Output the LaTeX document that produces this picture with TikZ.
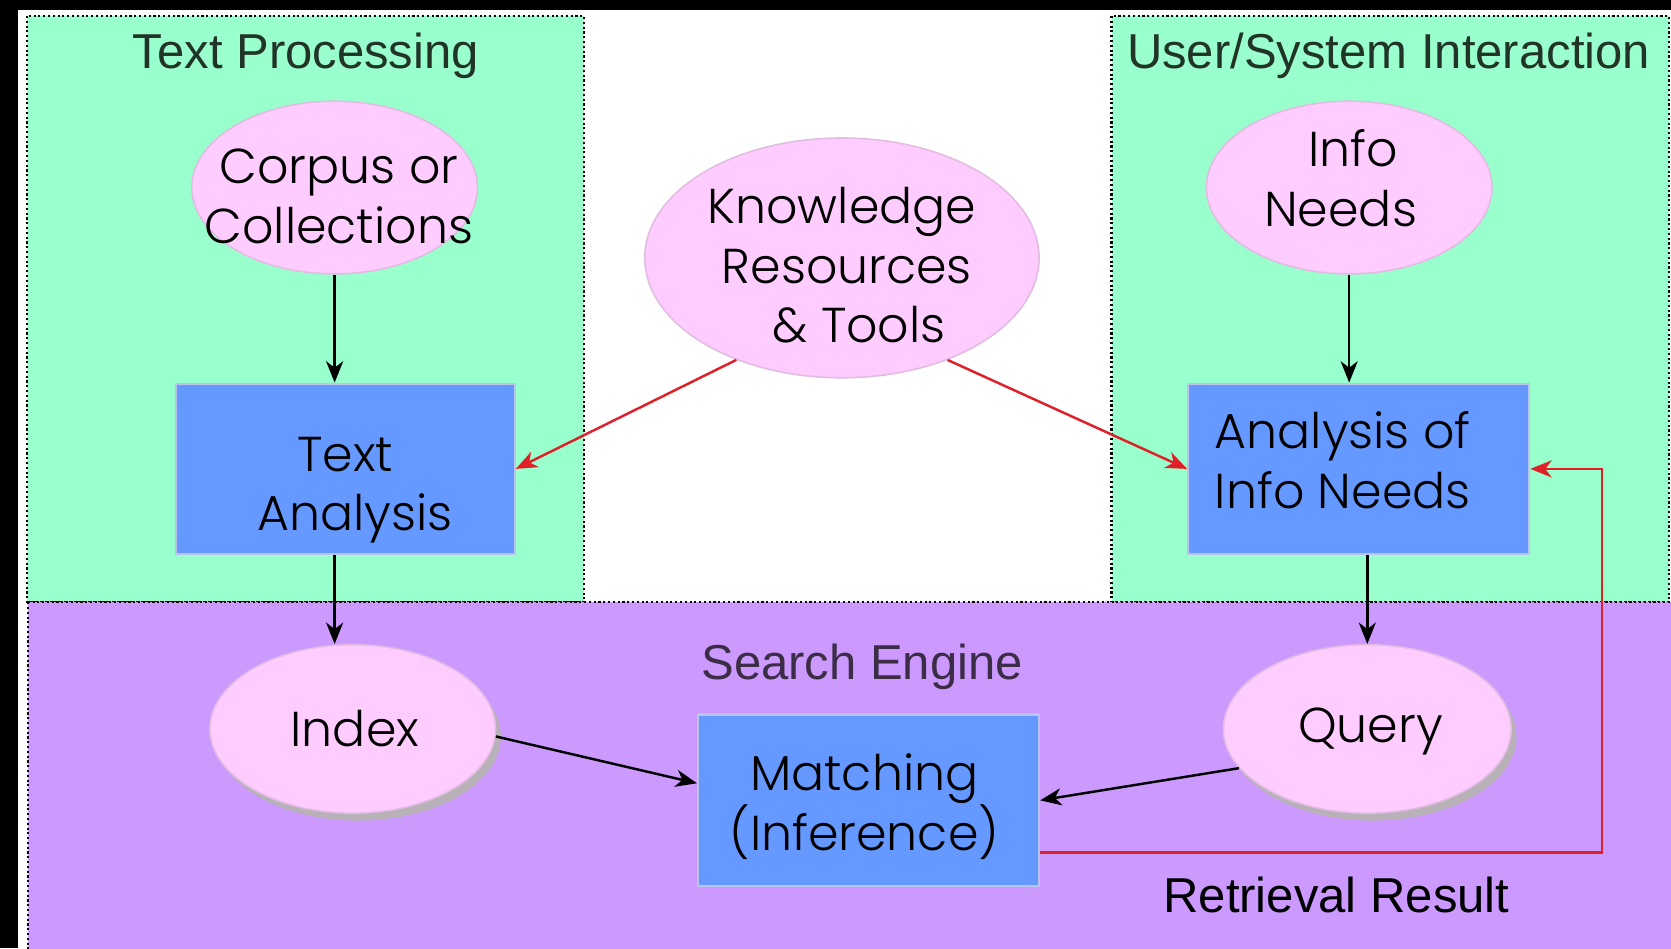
\documentclass[tikz,border=0pt]{standalone}
\usepackage{fontspec}
\setmainfont{Liberation Sans}
\IfFontExistsTF{Poppins-Light.ttf}{\newfontfamily\gothic{Poppins-Light.ttf}}{\newfontfamily\gothic{Poppins}}
\usetikzlibrary{shapes.geometric,arrows.meta,shadows,calc}
\definecolor{mint}{HTML}{99FFCC}
\definecolor{lav}{HTML}{CC99FF}
\definecolor{pinkf}{HTML}{FFCCFF}
\definecolor{bluef}{HTML}{6699FF}
\definecolor{redl}{HTML}{E02028}
\definecolor{pinkborder}{HTML}{E2BCE2}
\definecolor{boxborder}{HTML}{B8C4EE}
\definecolor{shadowgray}{HTML}{B8B2B8}
\definecolor{titlegreen}{HTML}{223328}
\definecolor{titlepurple}{HTML}{3B2D45}
\tikzset{
  panel/.style={draw=black, line width=2pt, dash pattern=on 2pt off 2.5pt},
  oval/.style={ellipse, fill=pinkf, draw=pinkborder, line width=1.5pt, inner sep=0pt},
  ovalsh/.style={oval, drop shadow={shadow xshift=5pt, shadow yshift=-7pt, fill=shadowgray, opacity=1}},
  bbox/.style={rectangle, fill=bluef, draw=boxborder, line width=2pt, inner sep=0pt,
    minimum width=320pt, minimum height=160pt},
  ntext/.style={font=\gothic\fontsize{46}{56}\selectfont, align=center, text=black, inner sep=0pt},
  title/.style={font=\fontsize{46}{56}\selectfont, anchor=base},
  arr/.style={-{Stealth[length=20pt,width=16pt,inset=6pt]}, line width=2.3pt, draw=black},
  redarr/.style={arr, draw=redl},
}
\begin{document}
\begin{tikzpicture}[x=1pt,y=-1pt]
\useasboundingbox (0,0) rectangle (1568,890);
\clip (0,0) rectangle (1568,890);
\fill[black] (0,0) rectangle (1568,890);
\fill[white] (17,9) rectangle (1580,900);
\draw[panel, fill=mint] (25,15) rectangle (548,565);
\draw[panel, fill=mint] (1043,15) rectangle (1566,565);
\draw[panel, fill=lav] (26,565) rectangle (1590,910);

\node[title, text=titlegreen] (tp) at (287,64) {Text Processing};
\node[title, text=titlegreen] (usi) at (1303,64) {User/System Interaction};
\node[title, text=titlepurple] (se) at (809,638) {Search Engine};
\node[title, text=black] (rr) at (1254,856) {Retrieval Result};

\node[oval, minimum width=268pt, minimum height=162pt] (corpus) at (314,176) {};
\node[oval, minimum width=370pt, minimum height=225pt] (know) at (790,242) {};
\node[oval, minimum width=268pt, minimum height=162pt] (info) at (1266,176) {};
\node[ovalsh, minimum width=268pt, minimum height=158pt] (index) at (331,684) {};
\node[ovalsh, minimum width=270pt, minimum height=158pt] (query) at (1283,684) {};

\node[bbox, minimum width=318pt] (textan) at (324,440) {};
\node[bbox] (analysis) at (1275,440) {};
\node[bbox, minimum height=161pt] (matching) at (815,751) {};

\node[ntext] (corpusT) at ([xshift=4pt,yshift=-8pt]corpus.center) {Corpus or\\Collections};
\node[ntext] (knowT) at ([yshift=-7pt]know.center) {Knowledge\\\hspace*{0.2em}Resources\\\hspace*{0.7em}\& Tools};
\node[ntext] (infoT) at ([xshift=-8pt,yshift=9pt]info.center) {\hspace*{0.5em}Info\\Needs};
\node[ntext] (indexT) at ([xshift=2pt]index.center) {Index};
\node[ntext] (queryT) at ([xshift=3pt,yshift=-2pt]query.center) {Query};
\node[ntext] (textanT) at ([yshift=-20pt]textan.center) {Text\\\hspace*{0.4em}Analysis};
\node[ntext] (analysisT) at ([xshift=-15pt,yshift=8pt]analysis.center) {Analysis of\\Info Needs};
\node[ntext, font=\gothic\fontsize{46}{48}\selectfont] (matchingT) at ([xshift=-4pt,yshift=-6pt]matching.center) {Matching\\(Inference)};

\coordinate (rc) at (1503,800);

\draw[arr] (corpus.south) -- (corpus.south |- textan.north);
\draw[arr] (corpus.south |- textan.south) -- (corpus.south |- index.north);
\draw[arr] (info.south) -- (info.south |- analysis.north);
\draw[arr] (query.north |- analysis.south) -- (query.north);
\draw[redarr] (know.224) -- (textan.east);
\draw[redarr] (know.316) -- (analysis.west);
\draw[arr] (index.-3) -- ([yshift=16pt]matching.west);
\draw[arr] (query.197) -- (matching.east);
\draw[redarr] ([yshift=-49pt]matching.east) -- (rc) |- (analysis.east);
\end{tikzpicture}
\end{document}
